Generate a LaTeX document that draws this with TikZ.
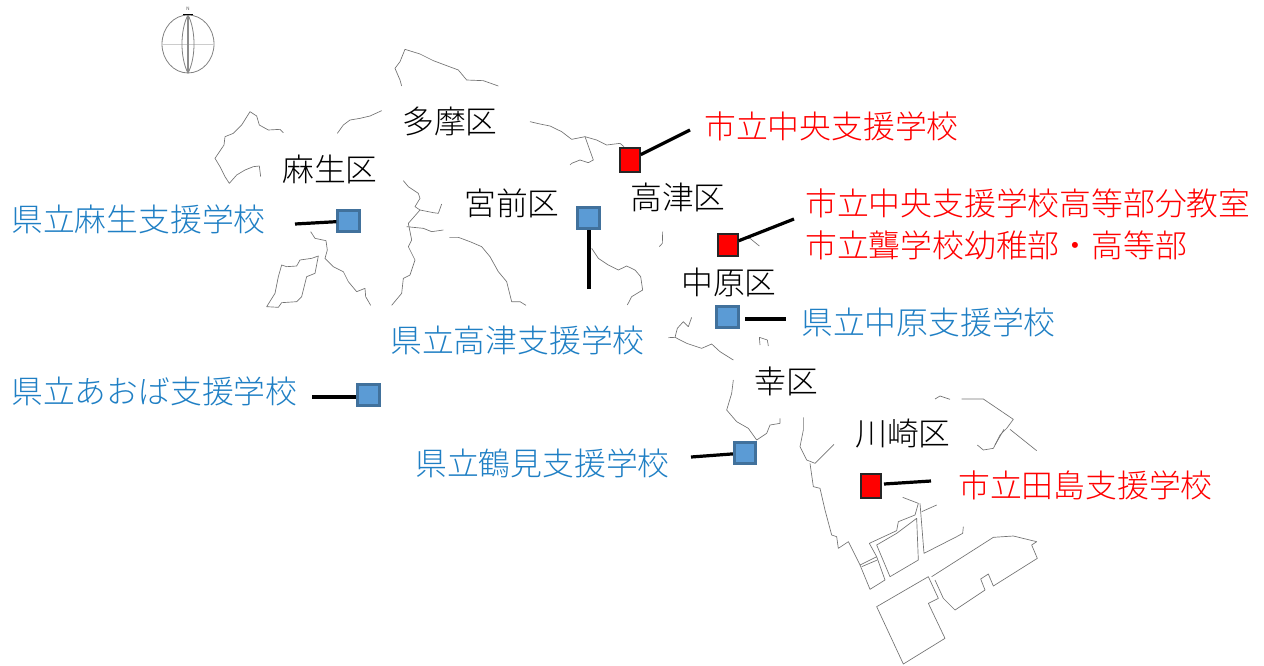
\documentclass[tikz,border=0pt]{standalone}
\usepackage{fontspec}
\setmainfont{Noto Sans CJK JP Light}
\begin{document}
\begin{tikzpicture}[x=0.75pt,y=-0.75pt,
  lbl/.style={inner sep=0pt,font=\fontsize{23.85pt}{26pt}\selectfont},
  ward/.style={lbl,text=black},
  bluetxt/.style={lbl,anchor=west,text=bluet},
  redtxt/.style={lbl,anchor=west,text=red},
  bluesq/.style={draw=blueb,fill=bluef,line width=2.2pt,minimum size=16pt,inner sep=0pt},
  redsq/.style={draw=black!85,fill=red,line width=1.6pt,minimum width=14.5pt,minimum height=18pt,inner sep=0pt},
  lead/.style={line width=2.4pt,black},
  map/.style={draw=black!55,line width=0.5pt,line join=round},
  comp/.style={draw=black!50,line width=0.6pt}]
\definecolor{bluet}{HTML}{1F7FC4}
\definecolor{bluef}{HTML}{5B9BD5}
\definecolor{blueb}{HTML}{41719C}
\useasboundingbox (0,0) rectangle (1264,665);
% compass
\draw[comp] (188,44) ellipse (26 and 29);
\draw[comp,black!20] (162,44) -- (214,44);
\draw[comp] (188,15) .. controls (180,30) and (180,58) .. (188,73) .. controls (196,58) and (196,30) .. (188,15);
\draw[black!45,line width=1.2pt] (188,15) -- (188,73);
\draw[black,line width=0.8pt] (183,14.5) -- (193,14.5);
\node[inner sep=0pt,font=\fontsize{3.5pt}{4pt}\selectfont] (north) at (188,9) {N};
% map, traced in zoom coordinates
\begin{scope}[shift={(200,30)},x=0.25pt,y=-0.25pt]
\draw[map] (605,168)--(600,150)--(585,115)--(600,95)--(615,58)--(660,72)--(700,92)--(775,120)--(800,150)--(850,152)--(895,168);
\draw[map] (250,308)--(240,298)--(205,300)--(178,285)--(170,258)--(150,245)--(125,285)--(100,310)--(75,320)--(72,345)--(45,385)--(60,410)--(75,440)--(88,460)--(110,435)--(135,420)--(160,410)--(178,408)--(182,440);
\draw[map] (412,310)--(430,285)--(450,270)--(480,265)--(510,258)--(545,242);
\draw[map] (332,605)--(345,625)--(378,632)--(382,660)--(375,685)--(400,710)--(430,725)--(445,755)--(470,785)--(495,775)--(497,800)--(512,826);
\draw[map] (355,678)--(335,685)--(300,690)--(290,708)--(260,710)--(245,705)--(235,740)--(225,790)--(200,830)--(235,832)--(245,818)--(290,815)--(305,800)--(320,740)--(345,730)--cycle;
\draw[map] (610,452)--(625,470)--(655,490)--(660,505)--(645,530)--(660,540)--(625,580)--(635,630)--(625,650)--(645,690)--(630,735)--(610,745)--(605,790)--(575,826);
\draw[map] (660,540)--(700,548)--(715,550)--(725,522);
\draw[map] (620,590)--(670,595)--(695,605)--(730,600);
\draw[map] (748,622)--(775,622)--(810,635)--(845,650)--(870,680)--(895,725)--(920,755)--(935,815)--(960,815)--(978,826);
\end{scope}
\begin{scope}[shift={(520,100)},x=0.25pt,y=-0.25pt]
\draw[map] (30,65)--(60,72)--(90,78)--(125,95)--(155,118)--(195,110)--(230,120)--(260,135)--(300,130)--(312,140);
\draw[map] (195,110)--(220,180)--(205,188)--(180,180)--(155,190)--(150,195);
\draw[map] (215,445)--(235,475)--(265,495)--(295,510)--(320,498)--(345,510)--(362,530)--(368,570)--(335,590)--(322,615);
\draw[map] (428,395)--(427,430)--(418,440);
\draw[map] (660,415)--(690,415)--(718,438);
\draw[map] (515,652)--(505,680)--(490,665)--(472,685)--(465,712)--(445,713);
\draw[map] (465,712)--(500,730)--(545,745)--(575,732)--(600,755)--(640,780);
\draw[map] (720,735)--(718,712)--(742,720)--(745,738);
\draw[map] (640,840)--(635,880)--(620,930)--(650,965)--(685,985)--(710,1020)--(740,1000)--(750,975)--(780,970)--(780,955);
\end{scope}
\begin{scope}[shift={(780,380)},x=0.25pt,y=-0.25pt]
\draw[map] (70,112)--(70,150)--(60,200)--(80,240)--(105,250)--(162,193);
\draw[map] (90,250)--(100,320)--(120,325)--(135,390)--(155,465)--(170,470)--(175,505)--(205,485)--(240,555)--(270,628)--(315,600)--(290,530)--(240,555);
\draw[map] (245,560)--(292,540);
\draw[map] (290,530)--(268,490)--(350,452)--(355,425)--(405,405)--(415,370)--(368,352);
\draw[map] (330,590)--(290,495)--(350,460)--(410,415)--(415,540)--cycle;
\draw[map] (425,395)--(470,375);
\draw[map] (420,370)--(432,520)--(530,470)--(548,460)--(550,440);
\draw[map] (455,590)--(640,472)--(700,468)--(770,485)--(755,495)--(772,535)--(640,618)--(625,582)--(602,597)--(615,630)--(525,690)--(490,655)--(465,600);
\draw[map] (290,680)--(445,590)--(475,655)--(445,670)--(495,775)--(370,852)--cycle;
\draw[map] (465,57)--(480,48)--(510,58);
\draw[map] (545,57)--(610,57)--(700,118)--(680,145)--(660,165)--(640,205)--(610,210)--(592,195);
\draw[map] (690,148)--(770,212);
\draw[map] (672,148)--(645,195);
\end{scope}
% ward names
\node[ward] (tama) at (450,121) {多摩区};
\node[ward] (asao) at (330,169) {麻生区};
\node[ward] (miyamae) at (512,203) {宮前区};
\node[ward] (takatsu) at (678,197) {高津区};
\node[ward] (nakahara) at (729,282) {中原区};
\node[ward] (saiwai) at (786,381) {幸区};
\node[ward] (kawasaki) at (903,434) {川崎区};
% school markers
\node[bluesq] (s1) at (348.5,221) {};
\node[bluesq] (s2) at (588.5,218) {};
\node[bluesq] (s3) at (727.5,317) {};
\node[bluesq] (s4) at (368.5,395) {};
\node[bluesq] (s5) at (745,453) {};
\node[redsq] (r1) at (630,160) {};
\node[redsq,minimum height=16pt] (r2) at (728,245) {};
\node[redsq] (r3) at (871,486) {};
% school names
\node[bluetxt] (t1) at (11,219) {県立麻生支援学校};
\node[bluetxt] (t2) at (390,340) {県立高津支援学校};
\node[bluetxt] (t3) at (801,322) {県立中原支援学校};
\node[bluetxt] (t4) at (11,391) {県立あおば支援学校};
\node[bluetxt] (t5) at (415,463) {県立鶴見支援学校};
\node[redtxt] (u1) at (704,126) {市立中央支援学校};
\node[redtxt] (u2) at (805,203) {市立中央支援学校高等部分教室};
\node[redtxt] (u3) at (805,245) {市立聾学校幼稚部・高等部};
\node[redtxt] (u4) at (958,485) {市立田島支援学校};
% leaders
\coordinate (e1) at (295,224);
\coordinate (e2) at (589,289);
\coordinate (e3a) at (745,319);
\coordinate (e3b) at (786,319);
\coordinate (e4) at (312,397);
\coordinate (e5) at (691,457);
\coordinate (f1) at (690,130);
\coordinate (f2) at (794,219);
\coordinate (f3a) at (884,484);
\coordinate (f3b) at (931,481);
\draw[lead] (e1) -- (s1);
\draw[lead] (e2) -- (s2.south -| e2);
\draw[lead] (e3a) -- (e3b);
\draw[lead] (e4) -- (s4.west |- e4);
\draw[lead] (e5) -- (s5);
\draw[lead] (f1) -- (r1);
\draw[lead] (f2) -- (r2);
\draw[lead] (f3a) -- (f3b);
\end{tikzpicture}
\end{document}
